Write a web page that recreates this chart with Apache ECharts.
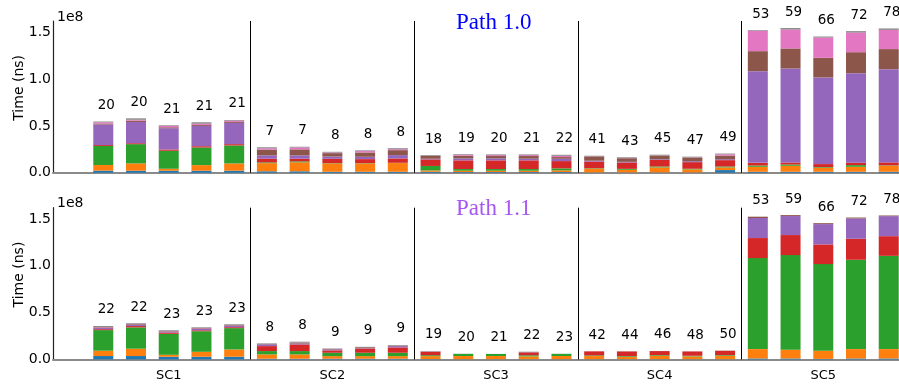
<!DOCTYPE html>
<html>
<head>
<meta charset="utf-8">
<script src="https://cdn.jsdelivr.net/npm/echarts@6/dist/echarts.min.js"></script>
<style>
  html, body { margin: 0; padding: 0; background: #fff; }
  #chart { width: 899px; height: 385px; }
</style>
</head>
<body>
<div id="chart"></div>
<script>
// Scenario groups along the x axis, five runs each
const groups = ['SC1', 'SC2', 'SC3', 'SC4', 'SC5'];
const groupCenters = [2, 7, 12, 17, 22];
const groupSeparators = [4.5, 9.5, 14.5, 19.5];

// Counts printed above each bar
const countsPath10 = [20, 20, 21, 21, 21,  7, 7, 8, 8, 8,  18, 19, 20, 21, 22,  41, 43, 45, 47, 49,  53, 59, 66, 72, 78];
const countsPath11 = [22, 22, 23, 23, 23,  8, 8, 9, 9, 9,  19, 20, 21, 22, 23,  42, 44, 46, 48, 50,  53, 59, 66, 72, 78];

// Stacked time components, in millions of ns (axis shows units of 1e8)
// Path 1.0
const p10_c1 = [2.2, 2.1, 2.1, 2.1, 2.1,  1.5, 1.5, 1, 1, 1,  1, 0.7, 0.7, 0.7, 0.7,  0.3, 0.3, 0.3, 0.3, 2.8,  1, 1, 1, 1, 1];
const p10_c2 = [6, 7.8, 2.1, 6, 7.8,  8.7, 9.6, 8.9, 8.9, 9.3,  1.4, 1.4, 1.4, 1.4, 1.8,  4, 2.8, 5.3, 3.2, 2.8,  5.3, 6.4, 4.3, 5.3, 6.4];
const p10_c3 = [20.3, 20.6, 19.2, 18.8, 19.2,  0.8, 1, 0.3, 0.3, 0.3,  4.8, 1.8, 1.8, 1.8, 2.1,  0.5, 1, 1, 0.7, 1,  1.4, 1.4, 0.7, 1.8, 0.4];
const p10_c4 = [1, 1, 1.4, 1.4, 1.4,  3.9, 2.8, 4.6, 4.3, 4.6,  7, 9.3, 9.3, 9.3, 7.8,  7, 6.8, 7.1, 7.1, 6.8,  2.8, 2.1, 3.2, 2.5, 3.2];
const p10_c5 = [22, 22.7, 22.7, 21.7, 22.7,  3.6, 3.6, 2.5, 2.5, 3.6,  0.7, 2.1, 2.1, 1.8, 2.5,  1, 0.7, 0.7, 1, 1,  97.9, 100.4, 92.5, 95.7, 99.6];
const p10_c6 = [1, 1.4, 1, 1, 1,  6.2, 6.4, 3.6, 4.6, 5.3,  3, 2.8, 2.5, 2.8, 1.8,  4.6, 3.9, 3.9, 3.9, 3.9,  21.4, 21.4, 21, 22.4, 21.4];
const p10_c7 = [1.4, 1, 1.4, 1.4, 1.4,  1.4, 2.1, 0.7, 1.5, 1,  0.3, 1, 1, 1, 1.4,  0.2, 0.2, 0.2, 0.2, 1.4,  21.7, 20.3, 21.7, 21, 20.6];
const p10_c8 = [0.7, 1.4, 0.7, 1.4, 0.7,  1, 0.7, 0.7, 0.7, 1,  0.7, 0.7, 0.7, 0.7, 1,  0.5, 0.7, 0.7, 0.7, 0.7,  0.7, 1.4, 1, 1.4, 1.4];
// Path 1.1
const p11_c1 = [3.6, 3.6, 2.8, 2.8, 2.8,  0.7, 0.7, 0.7, 0.7, 0.7,  0.3, 0.2, 0.2, 0.2, 0.2,  0.2, 0.2, 0.2, 0.2, 0.2,  1, 1, 0.5, 1, 1];
const p11_c2 = [5.7, 7.8, 2.1, 5.3, 7.8,  4.6, 4.6, 2.8, 2.8, 2.8,  3.2, 3.4, 3.4, 3, 3.4,  3.4, 2.6, 3.7, 3, 3.7,  10, 9.3, 8.8, 10, 10];
const p11_c3 = [22, 22.8, 22.4, 22, 22.8,  3.6, 3.6, 3.6, 3.6, 3.6,  1, 2.3, 2.2, 1.2, 2.3,  0.7, 0.7, 0.7, 0.7, 0.7,  97.2, 101.1, 92.5, 95.4, 99.6];
const p11_c4 = [1, 1.4, 1.4, 1, 1,  5.3, 7.1, 2.5, 4.4, 5.7,  3.6, 0, 0, 3, 0,  4.3, 5, 4.3, 4.6, 4.6,  21.4, 21.4, 21, 22.4, 21];
const p11_c5 = [1.2, 1.4, 1, 1.4, 1.4,  1.8, 1, 1, 0.4, 1.4,  0.2, 0, 0, 0.2, 0,  0, 0, 0, 0, 0,  21.4, 20.3, 21.7, 21.7, 21.4];
const p11_c6 = [0.7, 0.7, 0.5, 0.7, 0.7,  0.5, 1, 0.6, 1.1, 0.4,  0.2, 0, 0, 0.3, 0,  0, 0.1, 0, 0, 0,  1.4, 1, 1, 1, 0.7];
const p11_c7 = [0.5, 0.3, 0.3, 0.3, 0.3,  0.2, 0.2, 0.2, 0.1, 0.2,  0.2, 0, 0, 0, 0,  0, 0, 0, 0, 0,  0, 0, 0, 0, 0];
const p11_c8 = [1, 0.7, 0.7, 0.7, 0.7,  0.5, 0.7, 0.3, 0.3, 0.6,  0.3, 0.1, 0.1, 0.3, 0.1,  0.1, 0.1, 0.1, 0.1, 0.2,  0, 0, 0, 0, 0];

const palette = ['#1f77b4', '#ff7f0e', '#2ca02c', '#d62728', '#9467bd', '#8c564b', '#e377c2', '#7f7f7f'];
const panels = [
  { title: 'Path 1.0', color: '#0000ff', comps: [p10_c1, p10_c2, p10_c3, p10_c4, p10_c5, p10_c6, p10_c7, p10_c8], counts: countsPath10 },
  { title: 'Path 1.1', color: '#a557f2', comps: [p11_c1, p11_c2, p11_c3, p11_c4, p11_c5, p11_c6, p11_c7, p11_c8], counts: countsPath11 }
];

const FONT = 'DejaVu Sans';
const gridTops = [21, 207.7];
const gridHeight = 151.7;

const grids = [], xAxes = [], yAxes = [], series = [], titles = [];

panels.forEach((panel, p) => {
  // plot area runs past the right edge of the canvas
  grids.push({
    left: 53, width: 886, top: gridTops[p], height: gridHeight,
    containLabel: false, outerBoundsMode: 'none'
  });

  xAxes.push({
    type: 'value', gridIndex: p, min: -1.536, max: 25.536,
    splitLine: { show: false },
    axisTick: { show: false },
    axisLine: { show: true, onZero: false, lineStyle: { color: '#8a8a8a', width: 2 } },
    axisLabel: {
      show: p === 1,
      customValues: groupCenters,
      formatter: v => groups[groupCenters.indexOf(Math.round(v))] || '',
      color: '#000', fontFamily: FONT, fontSize: 13, margin: 10
    }
  });

  yAxes.push({
    type: 'value', gridIndex: p, min: 0, max: 162, interval: 50,
    name: 'Time (ns)', nameLocation: 'middle', nameGap: 27, nameRotate: 90,
    nameMoveOverlap: false,
    nameTextStyle: { color: '#000', fontFamily: FONT, fontSize: 14, padding: [0, 0, 0, 18] },
    splitLine: { show: false },
    axisTick: { show: false },
    axisLine: { show: true, onZero: false, lineStyle: { color: '#222', width: 1.2 } },
    axisLabel: {
      formatter: v => (v % 50 === 0 ? (v / 100).toFixed(1) : ''),
      showMaxLabel: false,
      color: '#000', fontFamily: FONT, fontSize: 14, margin: 2
    }
  });

  titles.push({
    text: panel.title, left: 451, top: gridTops[p] - 15,
    textStyle: { color: panel.color, fontFamily: 'Liberation Serif', fontSize: 23, fontWeight: 'normal' }
  });
  titles.push({
    text: '1e8', left: 52, top: gridTops[p] - 16,
    textStyle: { color: '#000', fontFamily: FONT, fontSize: 14, fontWeight: 'normal' }
  });

  panel.comps.forEach((vals, k) => {
    const s = {
      type: 'bar', name: 'component ' + (k + 1), xAxisIndex: p, yAxisIndex: p,
      stack: 'panel' + p, barWidth: 20,
      // value first so the stack accumulates along y; run index gives the x position
      data: vals.map((v, i) => [v, i]),
      encode: { x: 1, y: 0 },
      itemStyle: { color: palette[k] },
      emphasis: { disabled: true }
    };
    if (k === panel.comps.length - 1) {
      s.label = {
        show: true, position: 'top', distance: 9, offset: [3, 0],
        formatter: prm => String(panel.counts[prm.dataIndex]),
        color: '#000', fontFamily: FONT, fontSize: 13.5
      };
    }
    if (k === 0) {
      s.markLine = {
        silent: true, symbol: 'none', animation: false,
        label: { show: false },
        lineStyle: { color: '#000', width: 1, type: 'solid' },
        data: groupSeparators.map(x => ({ xAxis: x }))
      };
    }
    series.push(s);
  });
});

const chart = echarts.init(document.getElementById('chart'), null, { renderer: 'canvas' });
chart.setOption({
  backgroundColor: '#fff',
  animation: false,
  title: titles,
  grid: grids,
  xAxis: xAxes,
  yAxis: yAxes,
  series: series
});
</script>
</body>
</html>
